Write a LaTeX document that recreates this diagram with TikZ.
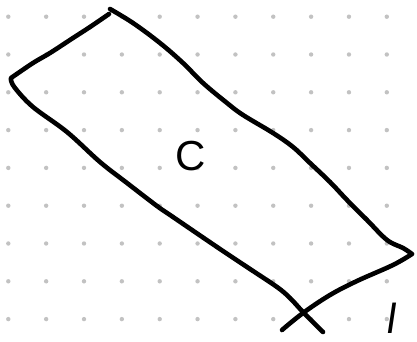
\documentclass[tikz,border=0pt]{standalone}
\usepackage{fontspec}
\setmainfont{Liberation Sans}
\begin{document}
\begin{tikzpicture}[x=1pt,y=-1pt,
  ink/.style={line width=4.6pt,line cap=round,line join=round,black},
  griddot/.style={fill=black!24,draw=none},
  hand/.style={font=\fontsize{42}{42}\selectfont,inner sep=0pt}]
\useasboundingbox (0,0) rectangle (417,342);
\foreach \i in {0,...,10}{
  \foreach \j in {0,...,8}{
    \fill[griddot] ({8.3+37.85*\i},{16.7+37.8*\j}) circle (2.2);
  }
}
\draw[ink] plot[smooth,tension=0.6] coordinates {(109,14) (90,27) (73,38) (50,53) (33,63) (11,78)}
  -- (11,80)
  plot[smooth,tension=0.6] coordinates {(11,80) (15,88) (33,107) (67,132) (100,162) (127,183) (157,206) (173,217) (217,247) (250,269) (277,287) (290,298) (303,312) (323,332)};
\draw[ink] plot[smooth,tension=0.6] coordinates {(110,9) (133,23) (160,43) (183,63) (203,83) (227,103) (243,115) (273,133) (293,147) (310,163) (330,182) (347,200) (367,220) (387,240) (403,248) (412,254)}
  plot[smooth,tension=0.6] coordinates {(412,254) (393,265) (357,281) (330,295) (303,313) (282,330)};
\node[hand] (c) at (191,156) {C};
\node[hand,xslant=0.15] (l) at (392,318) {l};
\end{tikzpicture}
\end{document}
